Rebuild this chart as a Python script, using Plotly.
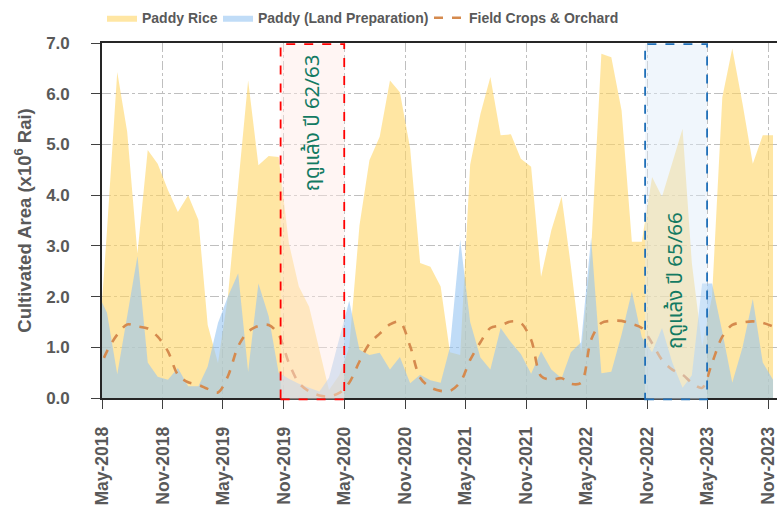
import pandas as pd
import plotly.graph_objects as go

# Monthly observations (mid-month), April 2018 through November 2023
first_month = "2018-04-01"
n_months = 68

paddy_rice = [0.5, 3.3, 6.43, 5.25, 2.85, 4.89, 4.62, 4.10, 3.67, 4.0, 3.51,
              1.44, 0.69, 2.0, 4.2, 6.26, 4.59, 4.77, 4.75, 3.05, 2.2,
              1.8, 0.95, 0.16, 0.45, 1.0, 3.4, 4.69, 5.15, 6.26, 6.03,
              4.92, 2.66, 2.59, 2.2, 0.9, 0.85, 4.6, 5.6, 6.33, 5.18,
              5.2, 4.72, 4.56, 2.39, 3.31, 3.97, 2.6, 0.9, 2.9, 6.79,
              6.72, 5.67, 3.08, 3.08, 4.36, 3.97, 4.62, 5.31, 2.66, 1.02,
              2.0, 5.93, 6.89, 5.8, 4.62, 5.18, 5.18]

land_preparation = [2.1, 1.68, 0.47, 1.6, 2.8, 0.7, 0.42, 0.36, 0.59, 0.23, 0.23,
                    0.62, 1.48, 2.0, 2.46, 0.52, 2.26, 1.61, 0.5, 0.38, 0.28,
                    0.2, 0.13, 0.4, 1.2, 1.92, 0.95, 0.85, 0.89, 0.56, 0.81,
                    0.29, 0.46, 0.35, 0.3, 1.0, 3.12, 1.5, 0.8, 0.56, 1.38,
                    1.1, 0.87, 0.48, 0.92, 0.56, 0.39, 0.9, 1.1, 3.16, 0.49,
                    0.52, 1.25, 2.1, 1.2, 0.9, 1.38, 0.7, 0.2, 0.45, 2.26,
                    2.26, 1.3, 0.3, 1.0, 1.95, 0.7, 0.36]

field_crops_orchard = [0.46, 0.92, 1.25, 1.45, 1.41, 1.37, 1.21, 0.92, 0.46, 0.31, 0.26,
                       0.18, 0.11, 0.43, 1.02, 1.31, 1.42, 1.44, 1.25, 0.69, 0.30,
                       0.13, 0.05, 0.03, 0.1, 0.3, 0.72, 1.07, 1.27, 1.45, 1.5,
                       1.02, 0.4, 0.21, 0.14, 0.14, 0.31, 0.75, 1.1, 1.38, 1.43,
                       1.51, 1.48, 1.15, 0.43, 0.36, 0.39, 0.28, 0.3, 1.15, 1.48,
                       1.52, 1.52, 1.46, 1.38, 1.08, 0.75, 0.56, 0.46, 0.3, 0.2,
                       0.69, 1.21, 1.44, 1.49, 1.51, 1.48, 1.41]

# Dry-season windows and their labels
dry_seasons = [
    {"start": "2019-10-22", "end": "2020-05-01", "label": "ฤดูแล้ง ปี 62/63",
     "line": "#FF0000", "fill": "rgba(255,232,228,0.45)", "label_y": 0.775},
    {"start": "2022-10-26", "end": "2023-05-01", "label": "ฤดูแล้ง ปี 65/66",
     "line": "#1F6FB8", "fill": "rgba(222,234,248,0.45)", "label_y": 0.33},
]

dates = pd.date_range(first_month, periods=n_months, freq="MS") + pd.Timedelta(days=15)

label_font = dict(family="Liberation Sans, Arial, sans-serif", size=17,
                  color="#595959", weight="bold")
grid_color = "#BFBFBF"

fig = go.Figure()
fig.add_trace(go.Scatter(
    x=dates, y=paddy_rice, name="Paddy Rice", mode="lines",
    line=dict(width=0, color="rgba(255,214,102,0.6)"),
    fill="tozeroy", fillcolor="rgba(255,214,102,0.6)", legendwidth=71,
))
fig.add_trace(go.Scatter(
    x=dates, y=land_preparation, name="Paddy (Land Preparation)", mode="lines",
    line=dict(width=0, color="rgba(150,196,242,0.6)"),
    fill="tozeroy", fillcolor="rgba(150,196,242,0.6)", legendwidth=166,
))
fig.add_trace(go.Scatter(
    x=dates, y=field_crops_orchard, name="Field Crops & Orchard", mode="lines",
    line=dict(width=2.6, color="#D58A4E", dash="dash", shape="spline", smoothing=0.9),
    legendwidth=150,
))

for season in dry_seasons:
    fig.add_shape(type="rect", xref="x", yref="paper",
                  x0=season["start"], x1=season["end"], y0=-0.004, y1=0.997,
                  line=dict(color=season["line"], width=1.8, dash="dash"),
                  fillcolor=season["fill"], layer="above")
    mid = pd.Timestamp(season["start"]) + (pd.Timestamp(season["end"]) - pd.Timestamp(season["start"])) / 2
    fig.add_annotation(x=mid, y=season["label_y"], xref="x", yref="paper",
                       xanchor="center", yanchor="middle",
                       text=season["label"], textangle=-90, showarrow=False,
                       font=dict(family="Noto Sans Thai, Noto Sans, sans-serif",
                                 size=20.5, color="#137A62"))

fig.update_xaxes(
    type="date", range=["2018-05-01", "2023-11-28"],
    tick0="2018-05-01", dtick="M6", tickformat="%b-%Y", tickangle=-90,
    ticks="outside", ticklen=9, tickwidth=1.2, tickcolor="#404040",
    showline=True, linecolor="#262626", linewidth=1.6, mirror=True,
    showgrid=True, gridcolor=grid_color, griddash="dashdot", gridwidth=1,
    tickfont=dict(label_font, size=17.5), ticklabelstandoff=11,
    ticklabeloverflow="allow", automargin=False,
)
fig.update_yaxes(
    range=[0, 7], dtick=1, tickformat=".1f",
    ticks="outside", ticklen=9, tickwidth=1.2, tickcolor="#404040",
    showline=True, linecolor="#262626", linewidth=1.6,
    showgrid=True, gridcolor=grid_color, griddash="dashdot", gridwidth=1,
    zeroline=False, tickfont=label_font, ticklabelstandoff=18,
    title=dict(text="Cultivated Area (x10<sup>6</sup> Rai)",
               font=dict(label_font, size=18.5), standoff=10),
    automargin=False,
)

fig.update_layout(
    width=777, height=508,
    margin=dict(l=102, r=0, t=43, b=110),
    plot_bgcolor="white", paper_bgcolor="white",
    showlegend=True,
    legend=dict(orientation="h", x=0.0, y=1.115, xanchor="left", yanchor="top",
                font=dict(family="Liberation Sans, Arial, sans-serif",
                          size=14, color="#595959", weight="bold"),
                bgcolor="rgba(0,0,0,0)", itemwidth=30, tracegroupgap=0),
)

fig.write_html("out.html")
